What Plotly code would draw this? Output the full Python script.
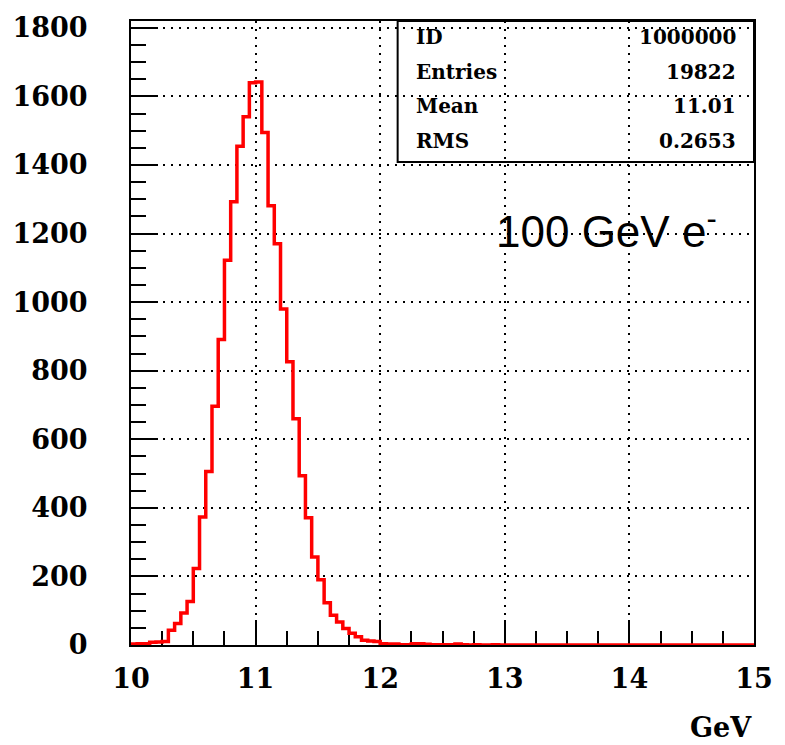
import numpy as np
import plotly.graph_objects as go

# ---- data ----
bin_low = 10.0
bin_width = 0.05
counts = [
    3, 4, 4, 8, 9, 10, 43, 63, 93, 127,
    223, 373, 506, 696, 891, 1122, 1293, 1455, 1541, 1640,
    1642, 1495, 1281, 1170, 980, 826, 660, 494, 371, 257,
    190, 123, 87, 67, 48, 34, 24, 14, 12, 10,
    4, 3, 3, 1, 1, 4, 4, 2, 1, 1,
    1, 1, 3, 1, 0, 1, 0, 0, 1, 0,
    0, 0, 0, 0, 0, 0, 0, 0, 0, 0,
    0, 0, 0, 0, 0, 0, 0, 0, 0, 0,
    0, 0, 0, 0, 0, 0, 0, 0, 0, 0,
    0, 0, 0, 0, 0, 0, 0, 0, 0, 0,
]
x_ticks = [10, 11, 12, 13, 14, 15]
y_ticks = [0, 200, 400, 600, 800, 1000, 1200, 1400, 1600, 1800]
stat_labels = ["ID", "Entries", "Mean", "RMS"]
stat_values = ["1000000", "19822", "11.01", "0.2653"]
label_text = "100 GeV e<sup>-</sup>"
x_title = "GeV"

edges = bin_low + bin_width * np.arange(len(counts) + 1)
ys = list(counts) + [counts[-1]]

fig = go.Figure()
fig.add_trace(go.Scatter(
    x=edges, y=ys, mode="lines", line=dict(shape="hv", color="#ff0000", width=3.5),
    showlegend=False, hoverinfo="skip"))

tick_font = dict(family="DejaVu Serif", size=27, color="black", weight="bold")
stat_font = dict(family="DejaVu Serif", size=20, color="black", weight="bold")

fig.update_layout(
    width=785, height=745,
    margin=dict(l=128, r=26, t=15, b=100),
    paper_bgcolor="white", plot_bgcolor="white",
    showlegend=False,
)
fig.update_xaxes(
    range=[10, 15], tickvals=x_ticks, ticktext=[str(v) for v in x_ticks],
    showline=True, linecolor="black", linewidth=2, mirror=True,
    ticks="inside", ticklen=25, tickwidth=2, tickcolor="black",
    minor=dict(dtick=0.25, ticks="inside", ticklen=14, tickwidth=2, tickcolor="black", showgrid=False),
    showgrid=True, gridcolor="black", griddash="2px,6px", gridwidth=2,
    zeroline=False, tickfont=tick_font, ticklabelstandoff=9,
    layer="below traces",
)
fig.update_yaxes(
    range=[0, 1820], tickvals=y_ticks, ticktext=[str(v) for v in y_ticks],
    showline=True, linecolor="black", linewidth=2, mirror=True,
    ticks="inside", ticklen=27, tickwidth=2, tickcolor="black",
    minor=dict(dtick=50, ticks="inside", ticklen=15, tickwidth=2, tickcolor="black", showgrid=False),
    showgrid=True, gridcolor="black", griddash="2px,6px", gridwidth=2,
    zeroline=False, tickfont=tick_font, ticklabelstandoff=36,
    layer="below traces",
)

# stats box
fig.add_shape(type="rect", xref="paper", yref="paper",
              x0=0.428, x1=1.0, y0=0.774, y1=1.0,
              line=dict(color="black", width=2), fillcolor="rgba(0,0,0,0)")
row_y = [0.975, 0.918, 0.863, 0.807]
for lab, val, yy in zip(stat_labels, stat_values, row_y):
    fig.add_annotation(xref="paper", yref="paper", x=0.455, y=yy, text=lab,
                       showarrow=False, xanchor="left", yanchor="middle", font=stat_font)
    fig.add_annotation(xref="paper", yref="paper", x=0.975, y=yy, text=val,
                       showarrow=False, xanchor="right", yanchor="middle", font=stat_font)

fig.add_annotation(xref="paper", yref="paper", x=0.583, y=0.668, text=label_text,
                   showarrow=False, xanchor="left", yanchor="middle",
                   font=dict(family="Liberation Sans", size=44, color="black"))

fig.add_annotation(xref="paper", yref="paper", x=1.0, y=-0.132, text=x_title,
                   showarrow=False, xanchor="right", yanchor="middle", font=tick_font)

fig.write_html("out.html")
